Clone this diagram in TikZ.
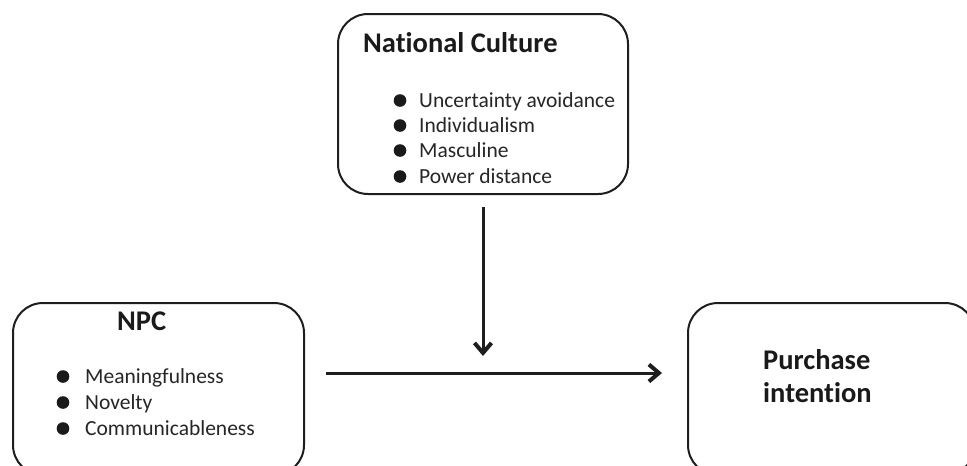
\documentclass[tikz,border=0pt]{standalone}
\usepackage{fontspec}
\setmainfont{Carlito}[Ligatures={NoCommon}]
\usetikzlibrary{arrows.meta}
\definecolor{txt}{HTML}{262626}
\definecolor{ttl}{HTML}{1A1A1A}
\definecolor{ln}{HTML}{1E1E1E}
\tikzset{
  box/.style={draw=ln, line width=2pt, rounded corners=30pt, rectangle, inner sep=0pt},
  ttltext/.style={anchor=base west, inner sep=0pt, font=\fontsize{28.5}{33}\selectfont\bfseries, text=ttl},
  itemtext/.style={anchor=base west, inner sep=0pt, font=\fontsize{21.5}{25}\selectfont, text=txt},
  conn/.style={draw=ln, line width=3pt, -{Straight Barb[length=10pt,width=17pt,line width=4pt]}}
}
\begin{document}
\begin{tikzpicture}[x=1pt,y=-1pt]
\clip (0,0) rectangle (967,466);
\fill[white] (0,0) rectangle (967,466);
% boxes
\node[box, minimum width=290pt, minimum height=180pt] (nc) at (483,104) {};
\node[box, minimum width=291pt, minimum height=172pt] (npc) at (158.5,389) {};
\node[box, minimum width=287pt, minimum height=172pt] (pi) at (831.5,389) {};
% National Culture
\node[ttltext] (nct) at (363,52) {National Culture};
\node[itemtext] (nc1) at (419,107) {Uncertainty avoidance};
\node[itemtext] (nc2) at (419,132) {Individualism};
\node[itemtext] (nc3) at (419,157) {Masculine};
\node[itemtext] (nc4) at (419,183) {Power distance};
\foreach \yy in {100.5,125.5,150.5,176.5} \fill[ttl] (400,\yy) circle (6.3);
% NPC
\node[ttltext] (npct) at (117,330) {NPC};
\node[itemtext] (npc1) at (85,383) {Meaningfulness};
\node[itemtext] (npc2) at (85,409) {Novelty};
\node[itemtext] (npc3) at (85,435) {Communicableness};
\foreach \yy in {376.5,402.5,428.5} \fill[ttl] (63,\yy) circle (6.3);
% Purchase intention
\node[ttltext] (pit1) at (763,369) {Purchase};
\node[ttltext] (pit2) at (763,402) {intention};
% connectors
\draw[conn, shorten <=21pt, shorten >=25pt] ([yshift=16pt]npc.east) -- ([yshift=16pt]pi.west);
\coordinate (vend) at (483,356);
\draw[conn, shorten <=12pt] (nc.south) -- (vend);
\end{tikzpicture}
\end{document}
